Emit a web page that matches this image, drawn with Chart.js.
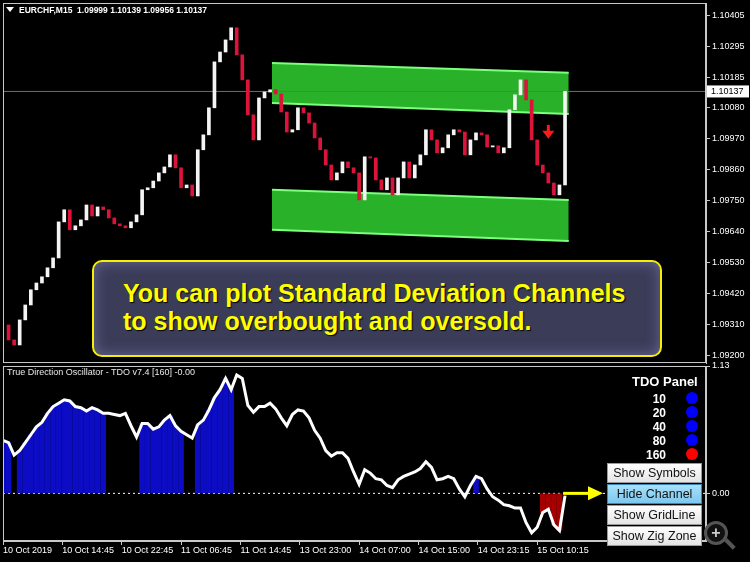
<!DOCTYPE html>
<html>
<head>
<meta charset="utf-8">
<script src="https://cdn.jsdelivr.net/npm/chart.js@4/dist/chart.umd.min.js"></script>
<style>
html, body { margin: 0; padding: 0; background: #000; }
#wrap { position: relative; width: 750px; height: 562px; overflow: hidden; background: #000; font-family: "Liberation Sans", Arial, sans-serif; }
canvas { position: absolute; left: 0; }
#priceCanvas { top: 0; }
#tdoCanvas { top: 356px; }
.lbl { position: absolute; color: #fff; white-space: nowrap; line-height: 1; }
.tri { display: inline-block; width: 0; height: 0; border-left: 4px solid transparent; border-right: 4px solid transparent; border-top: 5px solid #fff; margin-right: 5px; vertical-align: 1px; }
.btn { position: absolute; left: 607px; width: 93px; height: 18px; border: 1px solid #9a9a9a; background: linear-gradient(#ffffff, #e4e4e4); color: #111; font-size: 12.5px; text-align: center; line-height: 18px; }
.btn.on { background: linear-gradient(#a8e0fa, #7cc8ef); border-color: #3b86b8; }
.row { position: absolute; left: 640px; width: 26px; text-align: right; color: #fff; font-weight: bold; font-size: 12px; }
.dot { position: absolute; left: 686px; width: 12px; height: 12px; border-radius: 50%; }
#callout { position: absolute; left: 92px; top: 260px; width: 566px; height: 93px; border: 2px solid #f5f000; border-radius: 10px; background: #3b3c58; box-shadow: inset 0 0 14px rgba(140,140,200,0.55); }
#callout div { position: absolute; left: 29px; color: #ffff00; font-weight: bold; font-size: 25px; line-height: 1; white-space: nowrap; text-shadow: 1px 1px 1px #000; }
#zoomIcon { position: absolute; left: 704px; top: 521px; width: 18px; height: 18px; border: 3px solid #555; border-radius: 50%; background: #111; color: #ccc; font: bold 16px "Liberation Sans"; text-align: center; line-height: 18px; }
#zoomHandle { position: absolute; left: 724px; top: 542px; width: 12px; height: 4px; background: #555; transform: rotate(45deg); }
</style>
</head>
<body>
<div id="wrap">
  <canvas id="priceCanvas" width="750" height="366"></canvas>
  <canvas id="tdoCanvas" width="750" height="206"></canvas>

  <div class="lbl" style="left:6px;top:6px;font-size:8.5px;font-weight:bold;"><span class="tri"></span>EURCHF,M15&nbsp; 1.09999 1.10139 1.09956 1.10137</div>
  <div class="lbl" style="left:7px;top:368px;font-size:9px;color:#e8e8e8;">True Direction Oscillator - TDO v7.4 [160] -0.00</div>

  <div id="callout">
    <div style="top:19px;">You can plot Standard Deviation Channels</div>
    <div style="top:47px;">to show overbought and oversold.</div>
  </div>

  <div class="lbl" style="left:632px;top:375px;font-size:13px;font-weight:bold;">TDO Panel</div>
  <div id="panelRows"></div>

  <div class="btn" style="top:463px;">Show Symbols</div>
  <div class="btn on" style="top:484px;">Hide Channel</div>
  <div class="btn" style="top:505px;">Show GridLine</div>
  <div class="btn" style="top:526px;">Show Zig Zone</div>
  <div id="zoomIcon">+</div>
  <div id="zoomHandle"></div>
</div>
<script>
// EURCHF M15, closes read every 3 bars
const barStep = 3;
const closes = [
  1.09308, 1.09255, 1.09237, 1.09326, 1.09379, 1.09433, 1.09457, 1.09479, 1.09511, 1.09546,
  1.09674, 1.09717, 1.09646, 1.09660, 1.09681, 1.09734, 1.09695, 1.09727, 1.09717, 1.09688,
  1.09667, 1.09660, 1.09653, 1.09674, 1.09699, 1.09788, 1.09795, 1.09819, 1.09848, 1.09869,
  1.09912, 1.09866, 1.09795, 1.09805, 1.09766, 1.09930, 1.09983, 1.10079, 1.10242, 1.10277,
  1.10320, 1.10363, 1.10267, 1.10178, 1.10054, 1.09965, 1.10114, 1.10135, 1.10143, 1.10128,
  1.10064, 1.09993, 1.10001, 1.10079, 1.10061, 1.10025, 1.09972, 1.09930, 1.09876, 1.09823,
  1.09848, 1.09887, 1.09866, 1.09848, 1.09752, 1.09905, 1.09901, 1.09823, 1.09788, 1.09830,
  1.09770, 1.09830, 1.09887, 1.09830, 1.09876, 1.09912, 1.10001, 1.09965, 1.09919, 1.09937,
  1.09983, 1.10001, 1.09993, 1.09912, 1.09965, 1.09990, 1.09983, 1.09940, 1.09944, 1.09919,
  1.09937, 1.10072, 1.10125, 1.10178, 1.10107, 1.09965, 1.09876, 1.09848, 1.09812, 1.09770,
  1.09805, 1.10137
];
const lastPrice = 1.10137;

// True Direction Oscillator, same bar grid
const tdo = [
  0.47, 0.45, 0.34, 0.38, 0.45, 0.52, 0.59, 0.63, 0.71, 0.77,
  0.80, 0.83, 0.82, 0.77, 0.76, 0.73, 0.76, 0.74, 0.71, 0.71,
  0.70, 0.69, 0.71, 0.60, 0.50, 0.62, 0.62, 0.57, 0.59, 0.65,
  0.69, 0.60, 0.55, 0.52, 0.49, 0.61, 0.65, 0.74, 0.85, 0.92,
  1.02, 0.92, 1.05, 1.02, 0.78, 0.72, 0.77, 0.77, 0.80, 0.75,
  0.67, 0.60, 0.70, 0.74, 0.73, 0.67, 0.56, 0.49, 0.38, 0.33,
  0.36, 0.36, 0.31, 0.19, 0.08, 0.21, 0.18, 0.13, 0.12, 0.07,
  0.05, 0.12, 0.15, 0.17, 0.19, 0.22, 0.28, 0.23, 0.12, 0.13,
  0.15, 0.13, 0.04, -0.03, 0.07, 0.15, 0.13, 0.04, -0.03, -0.06,
  -0.10, -0.11, -0.13, -0.13, -0.26, -0.35, -0.30, -0.17, -0.14, -0.28,
  -0.33, -0.02
];
// 1 = blue histogram, -1 = red histogram, 0 = none
const tdoSignal = [
  1, 1, 0, 1, 1, 1, 1, 1, 1, 1,
  1, 1, 1, 1, 1, 1, 1, 1, 1, 0,
  0, 0, 0, 0, 0, 1, 1, 1, 1, 1,
  1, 1, 1, 0, 0, 1, 1, 1, 1, 1,
  1, 1, 0, 0, 0, 0, 0, 0, 0, 0,
  0, 0, 0, 0, 0, 0, 0, 0, 0, 0,
  0, 0, 0, 0, 0, 0, 0, 0, 0, 0,
  0, 0, 0, 0, 0, 0, 0, 0, 0, 0,
  0, 0, 0, 0, 0, 1, 0, 0, 0, 0,
  0, 0, 0, 0, 0, 0, 0, -1, -1, -1,
  -1, 0
];

// standard deviation channel (start bar, end bar)
const channelBars = [145, 305];
const upperTop = [1.10238, 1.10203];
const upperBottom = [1.10096, 1.10057];
const lowerTop = [1.09788, 1.09752];
const lowerBottom = [1.09646, 1.09606];
const arrowBar = 294;
const arrowPrice = 1.09990;

const timeTicks = [0, 32, 64, 96, 128, 160, 192, 224, 256, 288];
const timeLabels = ['10 Oct 2019', '10 Oct 14:45', '10 Oct 22:45', '11 Oct 06:45', '11 Oct 14:45',
  '13 Oct 23:00', '14 Oct 07:00', '14 Oct 15:00', '14 Oct 23:15', '15 Oct 10:15'];
const priceTicks = [1.10405, 1.10295, 1.10185, 1.10080, 1.09970, 1.09860, 1.09750, 1.09640,
  1.09530, 1.09420, 1.09310, 1.09200];
const tdoTicks = [1.13, 0];

const panelPeriods = ['10', '20', '40', '80', '160'];
const panelColors = ['#0000ff', '#0000ff', '#0000ff', '#0000ff', '#ff0000'];

// TDO panel rows
const rowsEl = document.getElementById('panelRows');
panelPeriods.forEach((p, i) => {
    const t = document.createElement('div');
    t.className = 'row';
    t.style.top = (392 + i * 14) + 'px';
    t.textContent = p;
    rowsEl.appendChild(t);
    const d = document.createElement('div');
    d.className = 'dot';
    d.style.top = (392 + i * 14) + 'px';
    d.style.background = panelColors[i];
    rowsEl.appendChild(d);
});

const axisFont = { family: 'Liberation Sans', size: 9 };
const frameColor = '#c8c8c8';
const xMax = 379;

// border around each sub window
const framePlugin = {
    id: 'frame',
    afterDraw(chart) {
        const a = chart.chartArea, c = chart.ctx;
        c.save();
        c.strokeStyle = frameColor;
        c.lineWidth = 1;
        c.strokeRect(a.left + 0.5, a.top + 0.5, a.right - a.left - 1, a.bottom - a.top - 1);
        c.restore();
    }
};

// price tag + red arrow
const priceDeco = {
    id: 'priceDeco',
    afterDraw(chart) {
        const c = chart.ctx, x = chart.scales.x, y = chart.scales.y;
        const py = y.getPixelForValue(lastPrice);
        c.save();
        c.fillStyle = '#fff';
        c.fillRect(707, py - 6, 42, 12);
        c.fillStyle = '#000';
        c.font = '9px "Liberation Sans"';
        c.textBaseline = 'middle';
        c.fillText(lastPrice.toFixed(5), 711, py + 0.5);

        const ax = x.getPixelForValue(arrowBar), ay = y.getPixelForValue(arrowPrice);
        c.fillStyle = '#ff1a1a';
        c.fillRect(ax - 1.5, ay - 8, 3, 8);
        c.beginPath();
        c.moveTo(ax - 6, ay - 2);
        c.lineTo(ax + 6, ay - 2);
        c.lineTo(ax, ay + 6);
        c.closePath();
        c.fill();
        c.restore();
    }
};

// yellow arrow pointing to the channel button
const tdoDeco = {
    id: 'tdoDeco',
    afterDraw(chart) {
        const c = chart.ctx, x = chart.scales.x, y = chart.scales.y;
        const y0 = y.getPixelForValue(0);
        const x0 = x.getPixelForValue(channelBars[1] - 3);
        c.save();
        c.strokeStyle = '#ffff00';
        c.fillStyle = '#ffff00';
        c.lineWidth = 3;
        c.beginPath();
        c.moveTo(x0, y0);
        c.lineTo(592, y0);
        c.stroke();
        c.beginPath();
        c.moveTo(588, y0 - 7);
        c.lineTo(603, y0);
        c.lineTo(588, y0 + 7);
        c.closePath();
        c.fill();
        c.restore();
    }
};

// candles: body from previous close to close
const candles = [];
for (let k = 1; k < closes.length; k++) {
    candles.push({ x: k * barStep, y: [closes[k - 1], closes[k]] });
}
const candleColors = candles.map(c => c.y[1] >= c.y[0] ? '#f4f4f4' : '#dc143c');

const band = (vals) => vals.map((v, i) => ({ x: channelBars[i], y: v }));
const bandFill = 'rgba(46, 196, 46, 0.9)';
const bandEdge = '#7dff7d';

new Chart(document.getElementById('priceCanvas').getContext('2d'), {
    type: 'bar',
    data: {
        datasets: [
            { type: 'line', data: band(upperTop), borderColor: bandEdge, borderWidth: 2, pointRadius: 0, fill: false, order: 5 },
            { type: 'line', data: band(upperBottom), borderColor: bandEdge, borderWidth: 2, pointRadius: 0, fill: { target: 0 }, backgroundColor: bandFill, order: 5 },
            { type: 'line', data: band(lowerTop), borderColor: bandEdge, borderWidth: 2, pointRadius: 0, fill: false, order: 5 },
            { type: 'line', data: band(lowerBottom), borderColor: bandEdge, borderWidth: 2, pointRadius: 0, fill: { target: 2 }, backgroundColor: bandFill, order: 5 },
            { type: 'line', data: [{ x: 0, y: lastPrice }, { x: xMax, y: lastPrice }], borderColor: '#6e6e6e', borderWidth: 1, pointRadius: 0, order: 4 },
            { type: 'bar', data: candles, backgroundColor: candleColors, barThickness: 3, order: 1 }
        ]
    },
    options: {
        responsive: false,
        animation: false,
        layout: { padding: { left: 3, top: 3, right: 0, bottom: 3 } },
        plugins: { legend: { display: false }, tooltip: { enabled: false } },
        scales: {
            x: { type: 'linear', min: 0, max: xMax, offset: false, display: false },
            y: {
                type: 'linear', position: 'right', min: 1.09173, max: 1.10451,
                afterBuildTicks: s => { s.ticks = priceTicks.map(v => ({ value: v })); },
                afterFit: s => { s.width = 44; s.paddingTop = 0; s.paddingBottom = 0; },
                ticks: { color: '#fff', font: axisFont, padding: 2, callback: v => v.toFixed(5) },
                grid: { drawOnChartArea: false, color: frameColor, tickLength: 4 },
                border: { color: frameColor }
            }
        }
    },
    plugins: [framePlugin, priceDeco]
});

const tdoPoints = tdo.map((v, k) => ({ x: k * barStep, y: v }));
const histPoints = [], histColors = [];
tdoSignal.forEach((s, k) => {
    if (s !== 0) {
        histPoints.push({ x: k * barStep, y: tdo[k] });
        histColors.push(s > 0 ? '#0c0cc4' : '#a50000');
    }
});

new Chart(document.getElementById('tdoCanvas').getContext('2d'), {
    type: 'bar',
    data: {
        datasets: [
            { type: 'line', data: tdoPoints, borderColor: '#ffffff', borderWidth: 3, pointRadius: 0, order: 1 },
            { type: 'line', data: [{ x: 0, y: 0 }, { x: xMax, y: 0 }], borderColor: '#ffffff', borderWidth: 1, borderDash: [2, 3], pointRadius: 0, order: 3 },
            { type: 'bar', data: histPoints, backgroundColor: histColors, barThickness: 5, order: 2 }
        ]
    },
    options: {
        responsive: false,
        animation: false,
        layout: { padding: { left: 3, top: 10, right: 0, bottom: 0 } },
        plugins: { legend: { display: false }, tooltip: { enabled: false } },
        scales: {
            x: {
                type: 'linear', min: 0, max: xMax, offset: false, position: 'bottom',
                afterBuildTicks: s => { s.ticks = timeTicks.map(v => ({ value: v })); },
                afterFit: s => { s.height = 21; s.paddingLeft = 0; s.paddingRight = 0; },
                ticks: {
                    color: '#fff', font: axisFont, align: 'start', padding: 0, maxRotation: 0, autoSkip: false,
                    callback: v => timeLabels[timeTicks.indexOf(v)]
                },
                grid: { drawOnChartArea: false, offset: false, color: frameColor, tickLength: 4 },
                border: { color: frameColor }
            },
            y: {
                type: 'linear', position: 'right', min: -0.4226, max: 1.13,
                afterBuildTicks: s => { s.ticks = tdoTicks.map(v => ({ value: v })); },
                afterFit: s => { s.width = 44; s.paddingTop = 0; s.paddingBottom = 0; },
                ticks: { color: '#fff', font: axisFont, padding: 2, callback: v => v.toFixed(2) },
                grid: { drawOnChartArea: false, color: frameColor, tickLength: 4 },
                border: { color: frameColor }
            }
        }
    },
    plugins: [framePlugin, tdoDeco]
});
</script>
</body>
</html>
